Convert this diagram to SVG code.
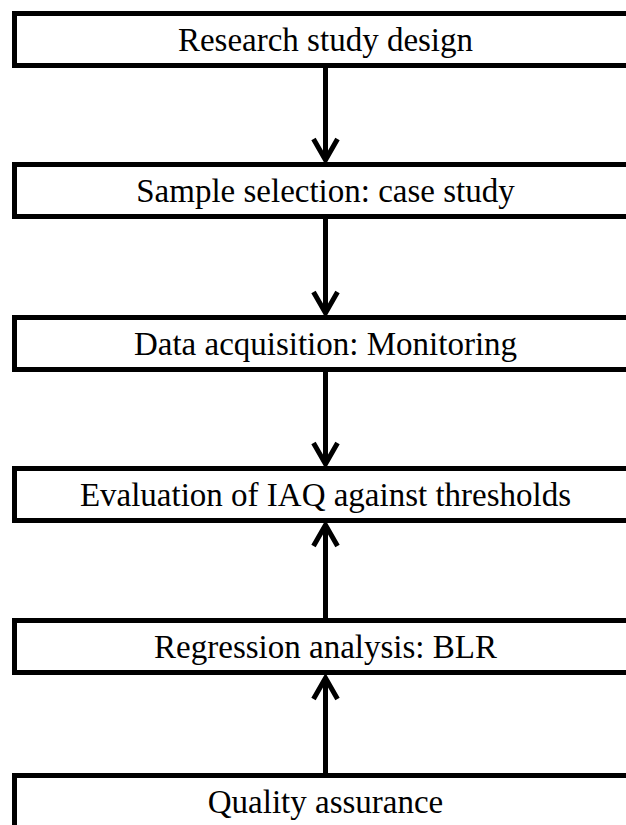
<svg xmlns="http://www.w3.org/2000/svg" width="626" height="825" viewBox="0 0 626 825">
<style>
.box{fill:#ffffff;stroke:#000000;stroke-width:5}
.lbl{font-family:"Liberation Serif","Times New Roman",serif;font-size:33px;fill:#000000;text-anchor:middle}
.conn{stroke:#000000;stroke-width:5;fill:none}
</style>
<defs>
<marker id="arrow" markerUnits="userSpaceOnUse" viewBox="-30 -20 40 40" markerWidth="40" markerHeight="40" refX="0" refY="0" orient="auto" overflow="visible">
<path d="M -21 -12 L 0 0 L -21 12" fill="none" stroke="#000000" stroke-width="5"/>
</marker>
</defs>
<rect width="626" height="825" fill="#ffffff"/>
<g id="connectors">
<line class="conn" x1="325.5" y1="68" x2="325.5" y2="160" marker-end="url(#arrow)"/>
<line class="conn" x1="325.5" y1="219" x2="325.5" y2="313" marker-end="url(#arrow)"/>
<line class="conn" x1="325.5" y1="372" x2="325.5" y2="464" marker-end="url(#arrow)"/>
<line class="conn" x1="325.5" y1="618" x2="325.5" y2="525" marker-end="url(#arrow)"/>
<line class="conn" x1="325.5" y1="773" x2="325.5" y2="678" marker-end="url(#arrow)"/>
</g>
<g id="node1">
<rect class="box" x="14.5" y="13.5" width="700" height="52"/>
<text class="lbl" x="325.5" y="51">Research study design</text>
</g>
<g id="node2">
<rect class="box" x="14.5" y="164.5" width="700" height="52"/>
<text class="lbl" x="325.5" y="202">Sample selection: case study</text>
</g>
<g id="node3">
<rect class="box" x="14.5" y="317.5" width="700" height="52"/>
<text class="lbl" x="325.5" y="355">Data acquisition: Monitoring</text>
</g>
<g id="node4">
<rect class="box" x="14.5" y="468.5" width="700" height="52"/>
<text class="lbl" x="325.5" y="506">Evaluation of IAQ against thresholds</text>
</g>
<g id="node5">
<rect class="box" x="14.5" y="620.5" width="700" height="52"/>
<text class="lbl" x="325.5" y="658">Regression analysis: BLR</text>
</g>
<g id="node6">
<rect class="box" x="14.5" y="775.5" width="700" height="100"/>
<text class="lbl" x="325.5" y="813">Quality assurance</text>
</g>
</svg>
